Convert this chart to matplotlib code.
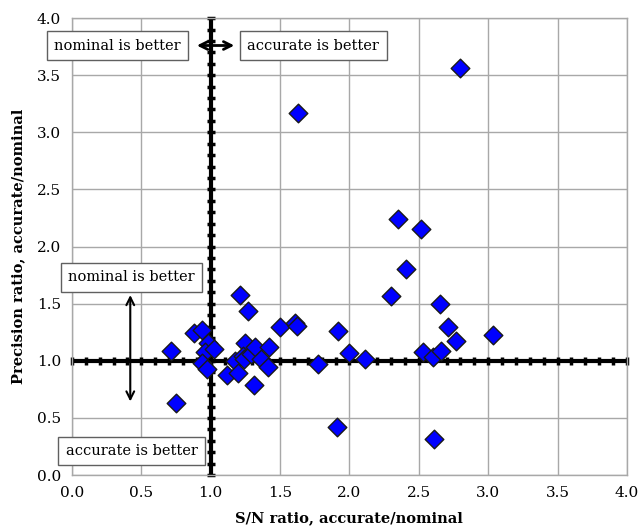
import matplotlib.pyplot as plt
import numpy as np

plt.rcParams['font.family'] = ['DejaVu Serif']

# S/N ratio (accurate/nominal) and precision ratio (accurate/nominal)
sn_ratio = [0.71, 0.75, 0.88, 0.94, 0.98, 0.96, 0.94, 0.975, 1.02, 1.115,
            1.175, 1.20, 1.21, 1.27, 1.25, 1.23, 1.24, 1.29, 1.32, 1.36,
            1.42, 1.415, 1.31, 1.50, 1.61, 1.62, 1.63, 1.77, 1.92, 1.91,
            2.00, 2.11, 2.30, 2.35, 2.41, 2.515, 2.53, 2.605, 2.66, 2.61,
            2.65, 2.71, 2.765, 2.80, 3.035]
precision_ratio = [1.09, 0.63, 1.24, 1.27, 1.16, 1.08, 0.98, 0.93, 1.10, 0.875,
                   1.00, 0.89, 1.575, 1.435, 1.155, 1.04, 1.02, 1.06, 1.12, 1.02,
                   1.12, 0.95, 0.79, 1.30, 1.33, 1.305, 3.17, 0.97, 1.26, 0.425,
                   1.07, 1.015, 1.57, 2.24, 1.80, 2.155, 1.08, 1.03, 1.09, 0.32,
                   1.50, 1.30, 1.17, 3.56, 1.23]

ticks = [0.0, 0.5, 1.0, 1.5, 2.0, 2.5, 3.0, 3.5, 4.0]
tick_labels = ['0.0', '0.5', '1.0', '1.5', '2.0', '2.5', '3.0', '3.5', '4.0']

fig = plt.figure(figsize=(6.39, 5.32), dpi=100)
ax = fig.add_axes([0.1127, 0.107, 0.8683, 0.859])

ax.set_xlim(0, 4)
ax.set_ylim(0, 4)
ax.set_xticks(ticks)
ax.set_xticklabels(tick_labels)
ax.set_yticks(ticks)
ax.set_yticklabels(tick_labels)
ax.tick_params(length=0, labelsize=11, pad=8)
ax.grid(True, color='#a8a8a8', linewidth=1)
ax.set_axisbelow(True)
for s in ax.spines.values():
    s.set_color('#a8a8a8')
    s.set_linewidth(1)

# crossing axes at 1.0 with minor tick marks
ax.axhline(1.0, color='black', lw=3, zorder=2)
ax.axvline(1.0, color='black', lw=3, zorder=2)
minor = np.arange(0, 4.01, 0.1)
ax.plot(minor, np.ones_like(minor), ls='none', marker='|', ms=6, mew=2.5,
        color='black', zorder=2, clip_on=False)
ax.plot(np.ones_like(minor), minor, ls='none', marker='_', ms=6, mew=2.5,
        color='black', zorder=2, clip_on=False)

ax.scatter(sn_ratio, precision_ratio, marker='D', s=90, c='#0000ff',
           edgecolors='#1a1a1a', linewidths=1, zorder=3)

box = dict(boxstyle='square,pad=0.5', fc='white', ec='#606060', lw=1)
ax.text(0.33, 3.76, 'nominal is better', ha='center', va='center',
        fontsize=10.5, bbox=box, zorder=4)
ax.text(1.74, 3.76, 'accurate is better', ha='center', va='center',
        fontsize=10.5, bbox=box, zorder=4)
ax.text(0.43, 1.73, 'nominal is better', ha='center', va='center',
        fontsize=10.5, bbox=box, zorder=4)
ax.text(0.43, 0.21, 'accurate is better', ha='center', va='center',
        fontsize=10.5, bbox=box, zorder=4)

arrow = dict(arrowstyle='<->', color='black', lw=2, mutation_scale=14)
ax.annotate('', xy=(0.88, 3.76), xytext=(1.19, 3.76), arrowprops=arrow, zorder=5)
ax.annotate('', xy=(0.42, 1.60), xytext=(0.42, 0.62),
            arrowprops=dict(arrowstyle='<->', color='black', lw=1.5,
                            mutation_scale=14), zorder=5)

ax.set_xlabel('S/N ratio, accurate/nominal', fontsize=10.5, fontweight='bold',
              labelpad=8)
ax.set_ylabel('Precision ratio, accurate/nominal', fontsize=10.5,
              fontweight='bold', labelpad=8)

fig.savefig('out.png', dpi=100)
